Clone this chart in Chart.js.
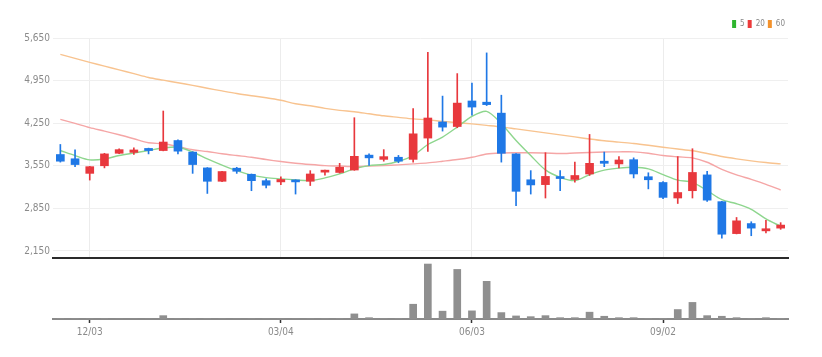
<!DOCTYPE html>
<html><head><meta charset="utf-8">
<script src="https://cdn.jsdelivr.net/npm/chart.js@4.4.1/dist/chart.umd.min.js"></script>
<style>
html,body{margin:0;padding:0;background:#fff;}
#wrap{position:relative;width:822px;height:357px;overflow:hidden;background:#fff;}
#price{position:absolute;left:0;top:0;}
#vol{position:absolute;left:0;top:258px;}
</style></head><body>
<div id="wrap"><canvas id="price" width="822" height="267"></canvas><canvas id="vol" width="822" height="99"></canvas></div>
<script>
const dates = ['11/19','11/26','12/03','12/10','12/17','12/24','12/31','01/07','01/14','01/21',
  '01/28','02/04','02/11','02/18','02/25','03/04','03/11','03/18','03/25','04/01',
  '04/08','04/15','04/22','04/29','05/06','05/13','05/20','05/27','06/03','06/10',
  '06/17','06/24','07/01','07/08','07/15','07/22','07/29','08/05','08/12','08/19',
  '08/26','09/02','09/09','09/16','09/23','09/30','10/07','10/14','10/21','10/28'];
const xTickLabels = ['12/03','03/04','06/03','09/02'];
const priceTicks = [2150, 2850, 3550, 4250, 4950, 5650];

const openP  = [3735,3665,3425,3550,3755,3770,3835,3800,3965,3775,
  3515,3295,3510,3410,3305,3285,3315,3295,3445,3440,
  3480,3725,3655,3690,3655,4005,4270,4195,4615,4595,
  4415,3745,3320,3240,3370,3325,3415,3625,3580,3650,
  3370,3275,3020,3140,3400,2960,2435,2600,2480,2525];
const highP  = [3900,3810,3540,3755,3830,3845,3840,4450,3975,3780,
  3520,3460,3525,3415,3335,3370,3320,3470,3480,3590,
  4340,3745,3815,3720,4490,5415,4695,5065,4910,5405,
  4710,3750,3470,3765,3470,3610,4065,3775,3700,3680,
  3435,3290,3700,3830,3460,2965,2700,2630,2655,2615];
const lowP   = [3610,3535,3315,3515,3750,3735,3745,3795,3745,3425,
  3095,3290,3425,3140,3185,3240,3085,3225,3395,3430,
  3475,3555,3625,3600,3610,3785,4120,4175,4380,4540,
  3610,2895,3085,3020,3140,3280,3390,3535,3515,3350,
  3170,3010,2930,3020,2965,2360,2430,2400,2445,2505];
const closeP = [3625,3570,3535,3745,3815,3810,3800,3940,3790,3570,
  3295,3455,3460,3305,3230,3325,3285,3415,3470,3525,
  3705,3680,3700,3625,4075,4335,4185,4580,4515,4555,
  3755,3130,3235,3375,3340,3390,3590,3590,3645,3415,
  3320,3030,3110,3440,2985,2425,2645,2525,2515,2575];

const ma5  = [3801,3718,3647,3661,3718,3760,3801,3842,3855,3776,
  3664,3562,3471,3397,3355,3334,3317,3306,3350,3416,
  3499,3553,3570,3624,3718,3900,4021,4186,4362,4445,
  4242,3966,3718,3482,3360,3306,3405,3479,3512,3525,
  3499,3405,3314,3278,3141,2992,2926,2835,2678,2555];
const ma20 = [4313,4247,4176,4120,4060,3994,3928,3912,3867,3813,
  3784,3747,3718,3690,3652,3619,3591,3570,3553,3545,
  3537,3545,3553,3565,3581,3598,3624,3652,3690,3743,
  3760,3763,3763,3760,3751,3760,3768,3776,3779,3779,
  3756,3718,3697,3680,3608,3492,3401,3326,3245,3152];
const ma60 = [5381,5315,5249,5188,5127,5064,5001,4957,4915,4871,
  4825,4780,4737,4701,4668,4626,4569,4536,4494,4461,
  4437,4404,4371,4346,4321,4305,4280,4258,4238,4214,
  4189,4156,4123,4090,4057,4024,3991,3961,3938,3917,
  3888,3855,3826,3796,3751,3702,3664,3631,3603,3581];
const volume = [4,3,3,4,2,2,2,33,3,4,
  5,3,2,3,3,2,2,3,3,4,
  50,13,4,5,145,540,77,487,80,370,
  63,30,23,33,13,13,67,27,13,13,
  5,4,93,163,33,27,13,5,13,6];
const maNames = ['5','20','60'];

const FONT = "'Liberation Sans Narrow','DejaVu Sans Condensed','Liberation Sans',sans-serif";
Chart.defaults.font.family = FONT;

const labeledIdx = new Set(xTickLabels.map(l => dates.indexOf(l)));
const RED = '#e8383d', BLUE = '#1f78e6';
const candleColor = closeP.map((c, i) => c >= openP[i] ? RED : BLUE);
const lineColors = ['#8ed68e', '#f5a6a6', '#f8c38f'];
const legendColors = ['#2fb52f', '#ec3b3b', '#f3922c'];

new Chart(document.getElementById('price'), {
  type: 'bar',
  data: {
    labels: dates,
    datasets: [
      { label: 'body', data: dates.map((d, i) => [openP[i], closeP[i]]), backgroundColor: candleColor,
        barThickness: 8, minBarLength: 2, grouped: false, order: 0 },
      { label: 'wick', data: dates.map((d, i) => [lowP[i], highP[i]]), backgroundColor: candleColor,
        barThickness: 1, grouped: false, order: 1 },
      { type: 'line', label: maNames[0], data: ma5, borderColor: lineColors[0], backgroundColor: legendColors[0], borderWidth: 1.4, pointRadius: 0, tension: 0.3, order: 2 },
      { type: 'line', label: maNames[1], data: ma20, borderColor: lineColors[1], backgroundColor: legendColors[1], borderWidth: 1.4, pointRadius: 0, tension: 0.3, order: 3 },
      { type: 'line', label: maNames[2], data: ma60, borderColor: lineColors[2], backgroundColor: legendColors[2], borderWidth: 1.4, pointRadius: 0, tension: 0.3, order: 4 }
    ]
  },
  options: {
    responsive: false, animation: false, devicePixelRatio: 1,
    layout: { padding: { top: 17, right: 34, bottom: 1, left: 0 } },
    plugins: {
      tooltip: { enabled: false },
      legend: {
        position: 'top', align: 'end',
        labels: {
          font: { size: 8 }, color: '#888', boxWidth: 4, boxHeight: 8, padding: 3,
          generateLabels: () => maNames.map((n, i) => ({
            text: n, fillStyle: legendColors[i], strokeStyle: legendColors[i], lineWidth: 0,
            hidden: false, datasetIndex: 2 + i, fontColor: '#888'
          }))
        }
      }
    },
    scales: {
      x: {
        offset: true,
        grid: { offset: false, drawTicks: false, color: c => labeledIdx.has(c.index) ? '#ececec' : 'rgba(0,0,0,0)' },
        border: { color: '#2b2b2b', width: 2 },
        ticks: { display: false, autoSkip: false }
      },
      y: {
        min: 2034, max: 5650,
        afterBuildTicks: s => { s.ticks = priceTicks.map(v => ({ value: v })); },
        afterFit: s => { s.width = 53; },
        grid: { color: '#efefef', drawTicks: false },
        border: { display: false },
        ticks: { padding: 3, color: '#8a8a8a', font: { size: 10 }, callback: v => Number(v).toLocaleString('en-US') }
      }
    }
  }
});

new Chart(document.getElementById('vol'), {
  type: 'bar',
  data: { labels: dates, datasets: [{ label: 'volume', data: volume, backgroundColor: '#8f8f8f', barThickness: 7 }] },
  options: {
    responsive: false, animation: false, devicePixelRatio: 1,
    layout: { padding: { top: 4, right: 34, bottom: 16, left: 53 } },
    plugins: { legend: { display: false }, tooltip: { enabled: false } },
    scales: {
      x: {
        offset: true,
        grid: { offset: false, drawOnChartArea: false, drawTicks: true, tickLength: 4, tickWidth: 1.5,
          color: c => labeledIdx.has(c.index) ? '#333' : 'rgba(0,0,0,0)',
          tickColor: c => labeledIdx.has(c.index) ? '#333' : 'rgba(0,0,0,0)' },
        border: { color: '#8a8a8a', width: 2 },
        ticks: { autoSkip: false, maxRotation: 0, padding: 3, color: '#8a8a8a', font: { size: 10 },
          callback: (v, i) => labeledIdx.has(i) ? dates[i] : '' }
      },
      y: { display: false, min: 0, max: 560 }
    }
  }
});
</script>
</body></html>
